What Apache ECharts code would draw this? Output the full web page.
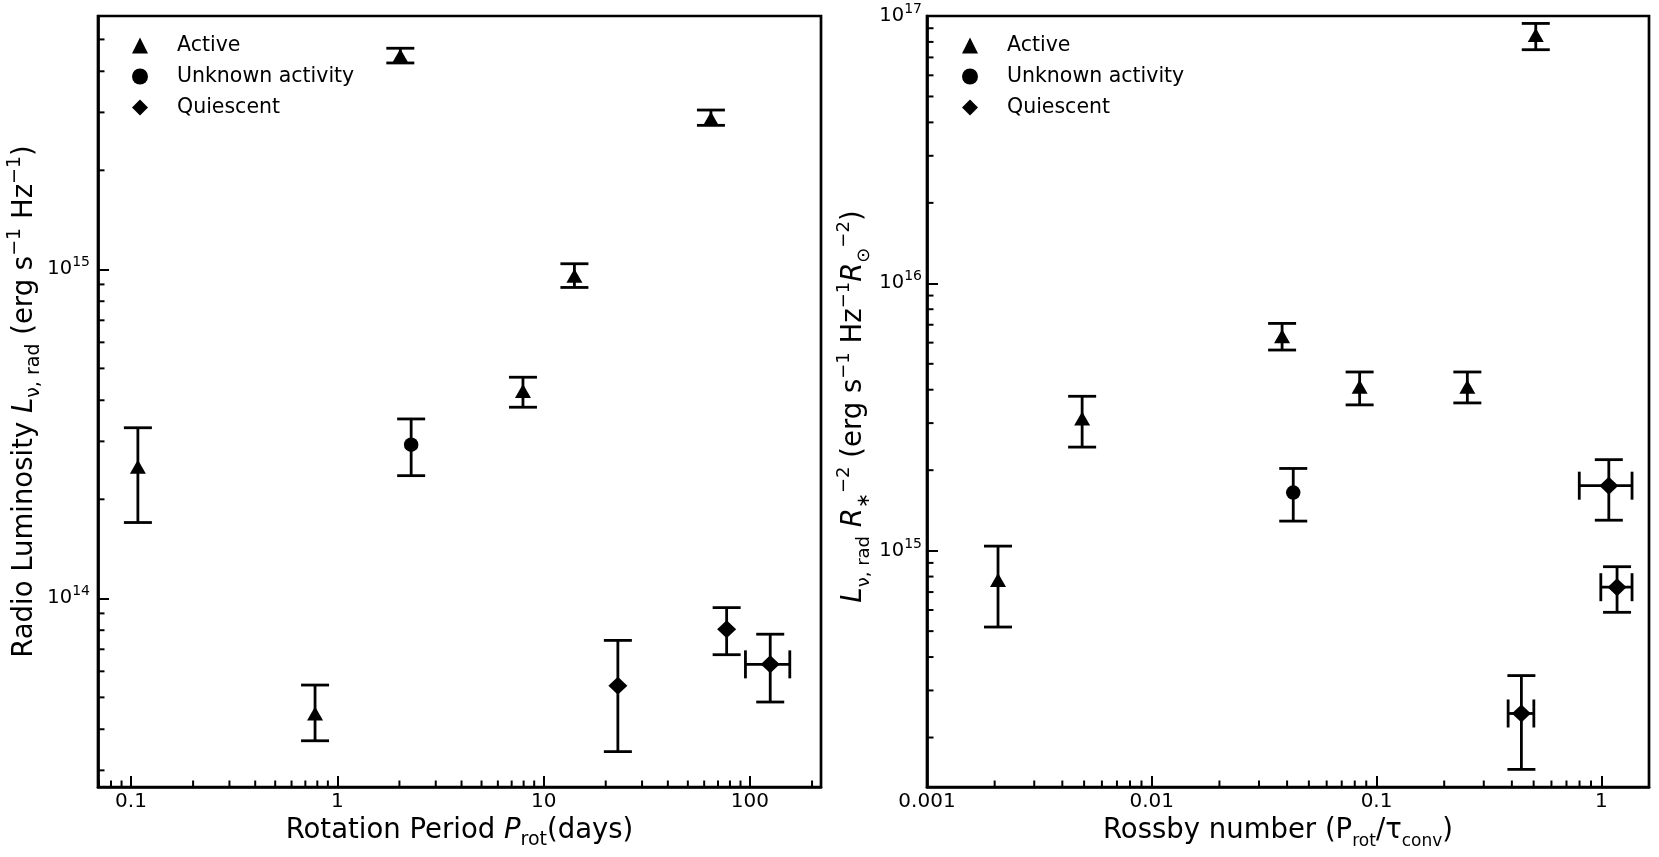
<!DOCTYPE html>
<html><head><meta charset="utf-8">
<script src="https://cdn.jsdelivr.net/npm/echarts@6/dist/echarts.min.js"></script>
<style>html,body{margin:0;padding:0;background:#fff;}#c{width:1659px;height:857px;}</style>
</head><body><div id="c"></div>
<script>
// ---------- data ----------
const legendNames = ['Active', 'Unknown activity', 'Quiescent'];

// Left panel: rotation period vs radio luminosity
const periodStatus = ['Active','Active','Active','Unknown activity','Active','Active','Active','Quiescent','Quiescent','Quiescent'];
const periodDays   = [0.108, 0.78, 2.02, 2.28, 7.94, 14.1, 64.7, 22.9, 77.1, 125.4];
const periodDaysLo = [null, null, null, null, null, null, null, null, null, 95.1];
const periodDaysHi = [null, null, null, null, null, null, null, null, null, 156];
const radioLum     = [2.51e14, 4.47e13, 4.46e15, 2.93e14, 4.27e14, 9.56e14, 2.87e15, 5.42e13, 8.05e13, 6.30e13];
const radioLumLo   = [1.70e14, 3.69e13, 4.24e15, 2.36e14, 3.81e14, 8.81e14, 2.74e15, 3.42e13, 6.74e13, 4.84e13];
const radioLumHi   = [3.30e14, 5.45e13, 4.70e15, 3.51e14, 4.70e14, 1.04e15, 3.05e15, 7.45e13, 9.37e13, 7.78e13];

// Right panel: Rossby number vs normalised radio luminosity
const rossbyStatus = ['Active','Active','Active','Unknown activity','Active','Active','Active','Quiescent','Quiescent','Quiescent'];
const rossby       = [0.00207, 0.0049, 0.038, 0.0426, 0.0841, 0.2535, 0.511, 0.441, 1.08, 1.175];
const rossbyLo     = [null, null, null, null, null, null, null, 0.385, 0.798, 0.995];
const rossbyHi     = [null, null, null, null, null, null, null, 0.501, 1.37, 1.37];
const normLum      = [7.77e14, 3.12e15, 6.34e15, 1.65e15, 4.10e15, 4.10e15, 8.49e16, 2.46e14, 1.75e15, 7.30e14];
const normLumLo    = [5.18e14, 2.44e15, 5.63e15, 1.29e15, 3.51e15, 3.57e15, 7.48e16, 1.52e14, 1.30e15, 5.88e14];
const normLumHi    = [1.04e15, 3.78e15, 7.08e15, 2.03e15, 4.66e15, 4.66e15, 9.38e16, 3.41e14, 2.19e15, 8.71e14];

// ---------- helpers ----------
const FONT = 'DejaVu Sans';
const symbolOf = {'Active': 'triangle', 'Unknown activity': 'circle', 'Quiescent': 'diamond'};
const sizeOf = {'Active': [16, 14], 'Unknown activity': 14.5, 'Quiescent': [19, 18]};
const CAP = 14, LW = 2.8;

function seg(x1, y1, x2, y2) {
  return {type: 'line', shape: {x1, y1, x2, y2}, style: {stroke: '#000', lineWidth: LW}};
}
function renderYErr(params, api) {
  const x = api.value(0), lo = api.value(2), hi = api.value(3);
  const a = api.coord([x, lo]), b = api.coord([x, hi]);
  return {type: 'group', children: [
    seg(a[0], a[1], b[0], b[1]),
    seg(a[0] - CAP, a[1], a[0] + CAP, a[1]),
    seg(b[0] - CAP, b[1], b[0] + CAP, b[1])
  ]};
}
function renderXErr(params, api) {
  const y = api.value(1), lo = api.value(2), hi = api.value(3);
  const a = api.coord([lo, y]), b = api.coord([hi, y]);
  return {type: 'group', children: [
    seg(a[0], a[1], b[0], b[1]),
    seg(a[0], a[1] - CAP, a[0], a[1] + CAP),
    seg(b[0], b[1] - CAP, b[0], b[1] + CAP)
  ]};
}
function minorValues(min, max) {
  const out = [];
  for (let e = Math.floor(Math.log10(min)); e <= Math.ceil(Math.log10(max)); e++) {
    for (let m = 2; m <= 9; m++) {
      const v = m * Math.pow(10, e);
      if (v > min && v < max) out.push(v);
    }
  }
  return out;
}
function minorX(params, api) {
  const p = api.coord([api.value(0), api.value(1)]);
  const cs = params.coordSys, yb = cs.y + cs.height;
  return {type: 'line', shape: {x1: p[0], y1: yb, x2: p[0], y2: yb - 6.5}, style: {stroke: '#000', lineWidth: 2}};
}
function minorY(params, api) {
  const p = api.coord([api.value(0), api.value(1)]);
  const cs = params.coordSys, xl = cs.x;
  return {type: 'line', shape: {x1: xl, y1: p[1], x2: xl + 6.5, y2: p[1]}, style: {stroke: '#000', lineWidth: 2}};
}
function isPow(v) { const l = Math.log10(v); return Math.abs(l - Math.round(l)) < 1e-6; }
function xFmt(v) {
  if (!isPow(v)) return '';
  const e = Math.round(Math.log10(v));
  return e >= 0 ? String(Math.pow(10, e)) : Math.pow(10, e).toFixed(-e);
}
function yFmt(v) {
  if (!isPow(v)) return '';
  return '{b|10}{s|' + Math.round(Math.log10(v)) + '}';
}
const yRich = {
  b: {fontSize: 19.5, fontFamily: FONT, color: '#000', lineHeight: 27},
  s: {fontSize: 14, fontFamily: FONT, color: '#000', lineHeight: 18, verticalAlign: 'top'}
};
function nameRich(sub) {
  return {
    n: {fontSize: 27.5, fontFamily: FONT, color: '#000', lineHeight: 38},
    i: {fontSize: 27.5, fontFamily: FONT, fontStyle: 'italic', color: '#000', lineHeight: 38},
    sb: {fontSize: sub, fontFamily: FONT, color: '#000', lineHeight: sub, verticalAlign: 'bottom'},
    sp: {fontSize: sub, fontFamily: FONT, color: '#000', lineHeight: sub + 2, verticalAlign: 'top'}
  };
}

const axisCommon = {
  type: 'log', logBase: 10,
  axisLine: {show: true, lineStyle: {color: '#000', width: 2.7}},
  axisTick: {show: true, inside: true, length: 11, lineStyle: {color: '#000', width: 2}},
  splitLine: {show: false},
  minorTick: {show: false}
};

const panels = [
  {gi: 0, xs: periodDays, xlo: periodDaysLo, xhi: periodDaysHi, ys: radioLum, ylo: radioLumLo, yhi: radioLumHi, st: periodStatus,
   xmin: 0.0692, xmax: 221, ymin: 2.67e13, ymax: 5.89e15},
  {gi: 1, xs: rossby, xlo: rossbyLo, xhi: rossbyHi, ys: normLum, ylo: normLumLo, yhi: normLumHi, st: rossbyStatus,
   xmin: 0.001, xmax: 1.63, ymin: 1.306e14, ymax: 1e17}
];

const series = [];
panels.forEach(P => {
  const yErr = [], xErr = [];
  P.xs.forEach((x, k) => {
    yErr.push([x, P.ys[k], P.ylo[k], P.yhi[k]]);
    if (P.xlo[k] != null) xErr.push([x, P.ys[k], P.xlo[k], P.xhi[k]]);
  });
  series.push({type: 'custom', xAxisIndex: P.gi, yAxisIndex: P.gi, renderItem: renderYErr, data: yErr, encode: {x: 0, y: 1}, silent: true, z: 2});
  series.push({type: 'custom', xAxisIndex: P.gi, yAxisIndex: P.gi, renderItem: renderXErr, data: xErr, encode: {x: 0, y: 1}, silent: true, z: 2});
  legendNames.forEach(name => {
    const d = [];
    P.xs.forEach((x, k) => { if (P.st[k] === name) d.push([x, P.ys[k]]); });
    series.push({type: 'scatter', name, xAxisIndex: P.gi, yAxisIndex: P.gi, data: d,
      symbol: symbolOf[name], symbolSize: sizeOf[name], itemStyle: {color: '#000', opacity: 1}, z: 5});
  });
  series.push({type: 'custom', xAxisIndex: P.gi, yAxisIndex: P.gi, renderItem: minorX, silent: true, z: 3,
    data: minorValues(P.xmin, P.xmax).map(v => [v, P.ymin]), encode: {x: 0, y: 1}});
  series.push({type: 'custom', xAxisIndex: P.gi, yAxisIndex: P.gi, renderItem: minorY, silent: true, z: 3,
    data: minorValues(P.ymin, P.ymax).map(v => [P.xmin, v]), encode: {x: 0, y: 1}});
});

const legendCommon = {
  orient: 'vertical', itemWidth: 16, itemHeight: 16, itemGap: 10, top: 30, selectedMode: false,
  symbolKeepAspect: true,
  formatter: name => '{t|' + name + '}',
  textStyle: {fontSize: 20.5, fontFamily: FONT, color: '#000', lineHeight: 20,
    rich: {t: {fontSize: 20.5, fontFamily: FONT, color: '#000', lineHeight: 20, padding: [0, 0, 0, 24]}}},
  data: legendNames
};

const option = {
  animation: false,
  backgroundColor: '#fff',
  grid: [
    {left: 98, top: 16, width: 723, height: 771, show: true, borderColor: '#000', borderWidth: 2.7, backgroundColor: 'transparent'},
    {left: 927, top: 16, width: 722, height: 771, show: true, borderColor: '#000', borderWidth: 2.7, backgroundColor: 'transparent'}
  ],
  legend: [
    Object.assign({left: 127}, legendCommon),
    Object.assign({left: 957}, legendCommon)
  ],
  xAxis: [
    Object.assign({}, axisCommon, {gridIndex: 0, min: panels[0].xmin, max: panels[0].xmax,
      name: '{n|Rotation Period }{i|P}{sb|rot}{n|(days)}', nameLocation: 'middle', nameGap: 24,
      nameTextStyle: {rich: nameRich(19)},
      axisLabel: {formatter: xFmt, fontSize: 20, fontFamily: FONT, color: '#000', margin: 5, showMinLabel: true, showMaxLabel: true}}),
    Object.assign({}, axisCommon, {gridIndex: 1, min: panels[1].xmin, max: panels[1].xmax,
      name: '{n|Rossby number (P}{sb|rot}{n|/τ}{sb|conv}{n|)}', nameLocation: 'middle', nameGap: 24,
      nameTextStyle: {rich: nameRich(17), padding: [0, 20, 0, 0]},
      axisLabel: {formatter: xFmt, fontSize: 20, fontFamily: FONT, color: '#000', margin: 5, showMinLabel: true, showMaxLabel: true}})
  ],
  yAxis: [
    Object.assign({}, axisCommon, {gridIndex: 0, min: panels[0].ymin, max: panels[0].ymax,
      name: '{n|Radio Luminosity }{i|L}{sb|ν, rad}{n| (erg s}{sp|−1}{n| Hz}{sp|−1}{n|)}', nameLocation: 'middle', nameGap: 52, nameRotate: 90,
      nameTextStyle: {rich: nameRich(19)},
      axisLabel: {formatter: yFmt, rich: yRich, margin: 8, showMinLabel: true, showMaxLabel: true}}),
    Object.assign({}, axisCommon, {gridIndex: 1, min: panels[1].ymin, max: panels[1].ymax,
      name: '{i|L}{sb|ν, rad}{n| }{i|R}{sb|∗}{sp|−2}{n| (erg s}{sp|−1}{n| Hz}{sp|−1}{i|R}{sb|⊙}{sp|−2}{n|)}', nameLocation: 'middle', nameGap: 54, nameRotate: 90,
      nameTextStyle: {rich: nameRich(18), padding: [0, 10, 0, 0]},
      axisLabel: {formatter: yFmt, rich: yRich, margin: 5, showMinLabel: true, showMaxLabel: true}})
  ],
  series
};

const chart = echarts.init(document.getElementById('c'), null, {renderer: 'canvas'});
chart.setOption(option);
</script>
</body></html>
